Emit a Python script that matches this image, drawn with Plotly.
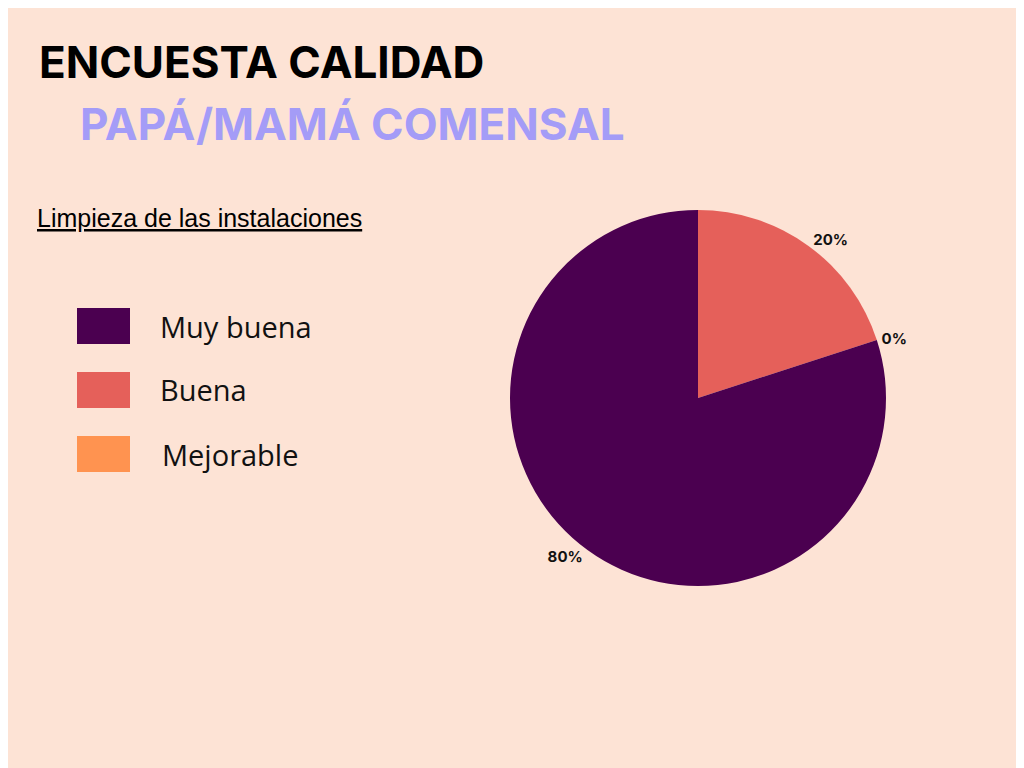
import plotly.graph_objects as go

BG = '#fde3d5'
OFF = 8  # page body margin in the browser

# data (slice order as drawn clockwise from 12 o'clock)
pie_labels = ['Buena', 'Mejorable', 'Muy buena']
pie_values = [20, 0, 80]
pie_colors = ['#e5605a', '#ff9350', '#4b0050']

# legend order
legend_labels = ['Muy buena', 'Buena', 'Mejorable']
legend_colors = ['#4b0050', '#e5605a', '#ff9350']

W, H = 1024, 768


def px(x):
    return (x - OFF) / W


def py(y):
    return 1 - (y - OFF) / H


fig = go.Figure()

fig.add_trace(go.Pie(
    labels=pie_labels,
    values=pie_values,
    sort=False,
    direction='clockwise',
    rotation=0,
    marker=dict(colors=pie_colors, line=dict(width=0)),
    textposition='outside',
    texttemplate='<b>%{percent:.0%}</b>',
    textfont=dict(family='Inter', size=15, color='#111111'),
    showlegend=False,
    hoverinfo='label+percent',
    domain=dict(x=[px(510), px(886)], y=[py(586), py(210)]),
))

annotations = [
    dict(text='<b>ENCUESTA CALIDAD</b>', x=37, y=62, font=dict(family='Inter', size=44, color='#000000')),
    dict(text='<b>PAPÁ/MAMÁ COMENSAL</b>', x=78, y=124, font=dict(family='Inter', size=44, color='#a49cf7')),
    dict(text='<u>Limpieza de las instalaciones</u>', x=35, y=218, font=dict(family='Liberation Sans', size=25, color='#000000')),
]
shapes = []
for i, (lab, col) in enumerate(zip(legend_labels, legend_colors)):
    yc = 326 + i * 64
    shapes.append(dict(type='rect', xref='paper', yref='paper',
                       x0=px(77), x1=px(130),
                       y0=py(yc + 18), y1=py(yc - 18),
                       fillcolor=col, line=dict(width=0)))
    annotations.append(dict(text=lab, x=158 + (2 if i == 2 else 0), y=yc,
                            font=dict(family='Open Sans', size=29, color='#111111')))

for a in annotations:
    a.update(xref='paper', yref='paper', x=px(a['x']), y=py(a['y']),
             xanchor='left', yanchor='middle', showarrow=False)

fig.update_layout(
    width=W, height=H,
    margin=dict(l=0, r=0, t=0, b=0),
    paper_bgcolor=BG, plot_bgcolor=BG,
    annotations=annotations,
    shapes=shapes,
)

fig.write_html('out.html')
